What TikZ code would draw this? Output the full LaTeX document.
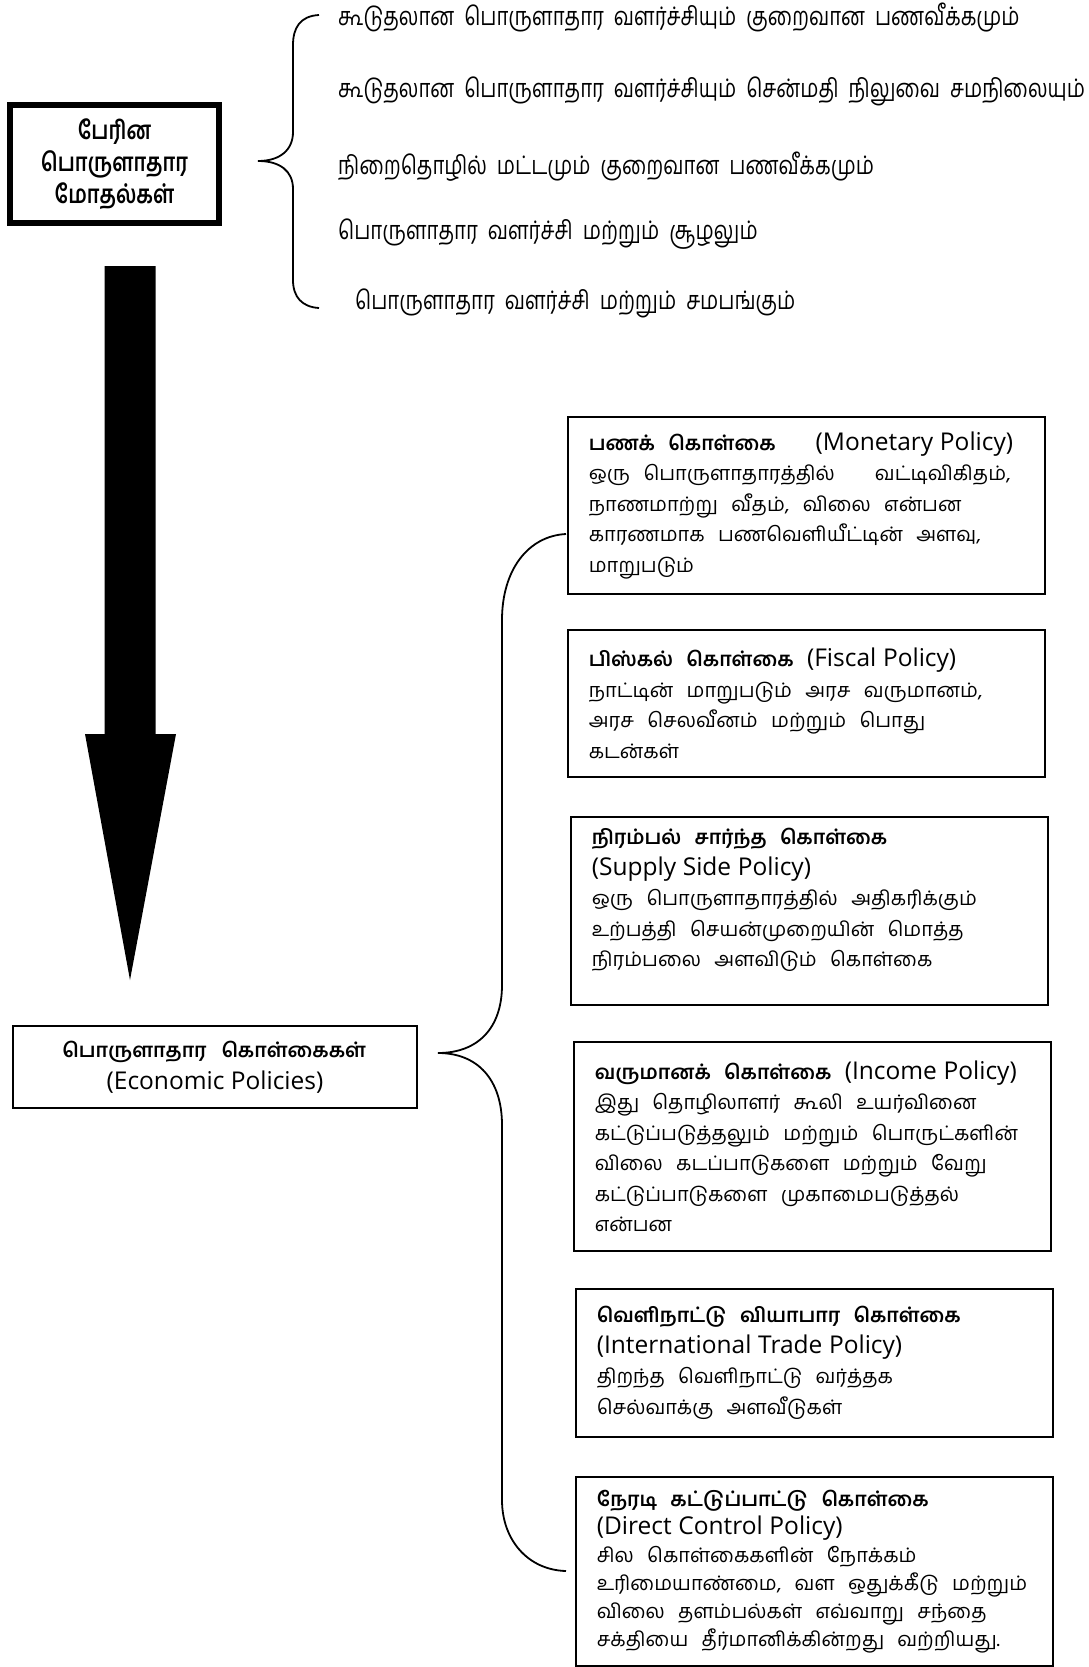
\documentclass[tikz,border=0pt]{standalone}
\usepackage{fontspec}
\setmainfont[Script=Tamil]{Hind Madurai}
\newfontfamily\tamcond[Script=Tamil,FakeStretch=0.8]{Hind Madurai}
\newfontfamily\latin{Open Sans}
\tikzset{
  policy/.style={draw, line width=1.6pt, anchor=north west, minimum width=477pt,
    text width=435pt, inner xsep=21pt, inner ysep=0pt, align=left,
    font=\fontsize{20}{30.5}\selectfont},
  aim/.style={anchor=west, inner sep=0pt, font=\tamcond\fontsize{25.5}{28}\selectfont},
  brace/.style={line width=1.8pt},
}
\newcommand{\eng}[1]{{\latin\fontsize{24.5}{30}\selectfont #1}}
\begin{document}
\begin{tikzpicture}[x=1pt,y=-1pt]
\useasboundingbox (0,0) rectangle (1089,1667);
% macro shocks
\node[draw, line width=6pt, minimum width=209pt, minimum height=118pt, align=center,
  font=\tamcond\bfseries\fontsize{25.5}{32}\selectfont] (shock) at (114.5,164)
  {பேரின\\பொருளாதார\\மோதல்கள்};
\node[aim] (t1) at (338,18) {கூடுதலான\ \ பொருளாதார\ \ வளர்ச்சியும்\ \ குறைவான\ \ பணவீக்கமும்};
\node[aim] (t2) at (338,91) {கூடுதலான\ \ பொருளாதார\ \ வளர்ச்சியும்\ \ சென்மதி\ \ நிலுவை\ \ சமநிலையும்};
\node[aim] (t3) at (338,167) {நிறைதொழில்\ \ மட்டமும்\ \ குறைவான\ \ பணவீக்கமும்};
\node[aim] (t4) at (338,234) {பொருளாதார\ \ வளர்ச்சி\ \ மற்றும்\ \ சூழலும்};
\node[aim] (t5) at (355,303) {பொருளாதார\ \ வளர்ச்சி\ \ மற்றும்\ \ சமபங்கும்};
\coordinate (ba) at (319,15);
\coordinate (bb) at (258,161);
\coordinate (bc) at (319,308);
\draw[brace] (ba) .. controls (300,16) and (293,28) .. (293,45) -- (293,132)
  .. controls (293,150) and (280,161) .. (bb)
  .. controls (280,161) and (293,171) .. (293,189) -- (293,280)
  .. controls (293,297) and (302,307) .. (bc);
% big arrow
\coordinate (arrtop) at (130,266);
\coordinate (arrtip) at (130,980);
\fill ([xshift=-25.5pt]arrtop) -- ([xshift=25.5pt]arrtop) -- ++(0,468) -- ++(20.5,0)
  -- (arrtip) -- (85,734) -- ++(19.5,0) -- cycle;
% economic policies
\node[draw, line width=1.6pt, minimum width=404pt, minimum height=82pt, align=center,
  font=\fontsize{20}{32}\selectfont] (econ) at (215,1067)
  {\textbf{பொருளாதார\ \ \ கொள்கைகள்}\\\eng{(Economic Policies)}};
% policy boxes
\node[policy, minimum height=177pt] (mon) at (567,416)
  {\textbf{பணக்\ \ கொள்கை}\qquad\eng{(Monetary Policy)}\\
   ஒரு\ \ பொருளாதாரத்தில்\qquad வட்டிவிகிதம்,\\
   நாணமாற்று\ \ வீதம்,\ \ விலை\ \ என்பன\\
   காரணமாக\ \ பணவெளியீட்டின்\ \ அளவு,\\
   மாறுபடும்};
\node[policy, minimum height=147pt] (fis) at (567,629)
  {\textbf{பிஸ்கல்\ \ கொள்கை}\ \ \eng{(Fiscal Policy)}\\
   நாட்டின்\ \ மாறுபடும்\ \ அரச\ \ வருமானம்,\\
   அரச\ \ செலவீனம்\ \ மற்றும்\ \ பொது\\
   கடன்கள்};
\node[policy, minimum height=188pt] (sup) at (570,816)
  {\textbf{நிரம்பல்\ \ சார்ந்த\ \ கொள்கை}\\
   \eng{(Supply Side Policy)}\\
   ஒரு\ \ பொருளாதாரத்தில்\ \ அதிகரிக்கும்\\
   உற்பத்தி\ \ செயன்முறையின்\ \ மொத்த\\
   நிரம்பலை\ \ அளவிடும்\ \ கொள்கை\rule[-26pt]{0pt}{1pt}};
\node[policy, minimum height=209pt] (inc) at (573,1041)
  {\textbf{வருமானக்\ \ கொள்கை}\ \ \eng{(Income Policy)}\\
   இது\ \ தொழிலாளர்\ \ கூலி\ \ உயர்வினை\\
   கட்டுப்படுத்தலும்\ \ மற்றும்\ \ பொருட்களின்\\
   விலை\ \ கடப்பாடுகளை\ \ மற்றும்\ \ வேறு\\
   கட்டுப்பாடுகளை\ \ முகாமைபடுத்தல்\\
   என்பன};
\node[policy, minimum height=148pt] (tra) at (575,1288)
  {\textbf{வெளிநாட்டு\ \ வியாபார\ \ கொள்கை}\\
   \eng{(International Trade Policy)}\\
   திறந்த\ \ வெளிநாட்டு\ \ வர்த்தக\\
   செல்வாக்கு\ \ அளவீடுகள்};
\node[policy, minimum height=189pt, font=\fontsize{20}{28}\selectfont] (dir) at (575,1476)
  {\textbf{நேரடி\ \ கட்டுப்பாட்டு\ \ கொள்கை}\\
   \eng{(Direct Control Policy)}\\
   சில\ \ கொள்கைகளின்\ \ நோக்கம்\\
   உரிமையாண்மை,\ \ வள\ \ ஒதுக்கீடு\ \ மற்றும்\\
   விலை\ \ தளம்பல்கள்\ \ எவ்வாறு\ \ சந்தை\\
   சக்தியை\ \ தீர்மானிக்கின்றது\ \ வற்றியது.};
% brace to the policies
\coordinate (pa) at (566,534);
\coordinate (pb) at (438,1053);
\coordinate (pc) at (566,1571);
\draw[brace] (pa) .. controls (528,536) and (502,570) .. (502,620) -- (502,985)
  .. controls (502,1028) and (478,1053) .. (pb)
  .. controls (478,1053) and (502,1080) .. (502,1125) -- (502,1500)
  .. controls (502,1540) and (528,1570) .. (pc);
\end{tikzpicture}
\end{document}
